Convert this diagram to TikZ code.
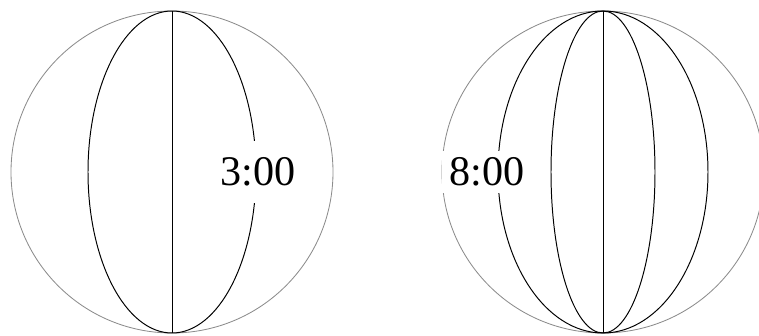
\documentclass[tikz,border=0pt]{standalone}
\usepackage{fontspec}
\setmainfont{Liberation Serif}
\begin{document}
\begin{tikzpicture}[x=0.025cm,y=0.025cm,
	globe/.style={ black!45, line width=0.6pt },
	meridian/.style={ black, line width=0.7pt },
	clock/.style={ fill=white, inner xsep=5pt, inner ysep=2pt, font=\fontsize{30}{31}\selectfont }
]
\useasboundingbox (0,0) rectangle (759,336);
\clip (0,0) rectangle (759,336);

% left globe
\draw[globe] (172,164) circle (161);
\draw[meridian] (172,164) ellipse (84 and 161);
\draw[meridian] (172,3) -- (172,325);
\node at (258,164) (three) [clock, minimum height=44pt] {3:00};

% right globe
\draw[globe] (603,164) circle (161);
\draw[meridian] (603,164) ellipse (105 and 161);
\draw[meridian] (603,164) ellipse (52 and 161);
\draw[meridian] (603,3) -- (603,325);
\node at (487,164) (eight) [clock, minimum height=30pt] {8:00};

\end{tikzpicture}
\end{document}
